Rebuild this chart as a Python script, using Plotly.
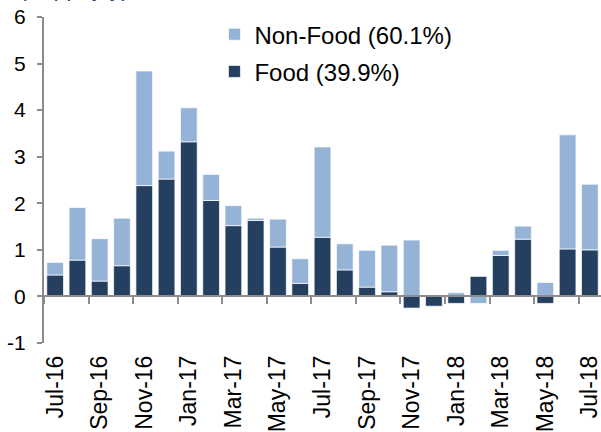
import plotly.graph_objects as go

months = ["Jul-16", "Aug-16", "Sep-16", "Oct-16", "Nov-16", "Dec-16",
          "Jan-17", "Feb-17", "Mar-17", "Apr-17", "May-17", "Jun-17",
          "Jul-17", "Aug-17", "Sep-17", "Oct-17", "Nov-17", "Dec-17",
          "Jan-18", "Feb-18", "Mar-18", "Apr-18", "May-18", "Jun-18", "Jul-18"]

food = [0.46, 0.78, 0.33, 0.66, 2.38, 2.52,
        3.32, 2.06, 1.52, 1.63, 1.06, 0.28,
        1.27, 0.57, 0.20, 0.10, -0.25, -0.21,
        -0.15, 0.43, 0.88, 1.23, -0.15, 1.02, 1.00]

non_food = [0.27, 1.13, 0.91, 1.02, 2.46, 0.60,
            0.73, 0.56, 0.43, 0.05, 0.60, 0.53,
            1.94, 0.56, 0.79, 1.00, 1.21, 0.0,
            0.08, -0.15, 0.11, 0.28, 0.30, 2.45, 1.41]

y_ticks = [-1, 0, 1, 2, 3, 4, 5, 6]
y_tick_text = ["-1", "0", "1", "2", "3", "4", "5", "6"]

FONT = "Liberation Sans, Arial, sans-serif"
DARK = "#243F60"
LIGHT = "#95B3D7"
AXIS = "#8c8c8c"

fig = go.Figure()
fig.add_trace(go.Bar(x=months, y=food, name="Food (39.9%)",
                     marker=dict(color=DARK, line=dict(color="rgba(255,255,255,0.7)", width=1)),
                     legendgroup="food", legendrank=2))
fig.add_trace(go.Bar(x=months, y=non_food, name="Non-Food (60.1%)",
                     marker=dict(color=LIGHT, line=dict(color="rgba(255,255,255,0.7)", width=1)),
                     legendgroup="nonfood", legendrank=1))
# invisible trace carrying the zero-line axis with tick marks
fig.add_trace(go.Scatter(x=months, y=[None] * len(months), xaxis="x2", yaxis="y",
                         mode="markers", showlegend=False, hoverinfo="skip"))

fig.update_layout(
    width=601, height=432,
    margin=dict(l=44, r=0, t=17, b=89),
    paper_bgcolor="white", plot_bgcolor="white",
    barmode="relative", bargap=0.25,
    font=dict(family=FONT, color="black"),
    xaxis=dict(type="category", range=[-0.5, len(months) - 0.5], dtick=2,
               tickangle=-90, tickfont=dict(size=23, color="black"),
               ticklabelstandoff=7, automargin=False,
               showline=False, ticks="", showgrid=False, zeroline=False),
    xaxis2=dict(type="category", overlaying="x", anchor="free", position=1 / 7,
                range=[-0.5, len(months) - 0.5], dtick=2, tickson="boundaries",
                ticks="outside", ticklen=7, tickwidth=2, tickcolor=AXIS,
                showticklabels=False, showline=True, linecolor=AXIS, linewidth=2,
                showgrid=False, zeroline=False, automargin=False),
    yaxis=dict(range=[-1, 6], tickvals=y_ticks, ticktext=y_tick_text,
               ticks="outside", ticklen=5,
               tickwidth=2, tickcolor=AXIS, showline=True, linecolor=AXIS,
               linewidth=2, showgrid=False, zeroline=False,
               ticklabelstandoff=7, automargin=False,
               tickfont=dict(size=21, color="black")),
    legend=dict(x=0.306, y=1.015, xanchor="left", yanchor="top",
                traceorder="grouped", tracegroupgap=3,
                font=dict(size=24, color="black"), bgcolor="rgba(0,0,0,0)"),
    showlegend=True,
)

fig.add_annotation(text="(% pp, y/y)", xref="paper", yref="paper",
                   x=-0.048, y=1.042, xanchor="left", yanchor="bottom",
                   showarrow=False, font=dict(size=23, color="#1F497D", family=FONT))

fig.write_html("out.html")
